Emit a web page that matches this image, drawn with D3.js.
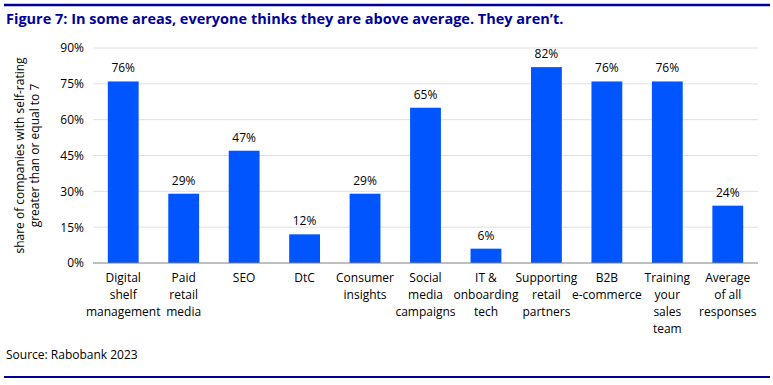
<!DOCTYPE html>
<html>
<head>
<meta charset="utf-8">
<script src="https://cdn.jsdelivr.net/npm/d3@7"></script>
<style>
  body { margin: 0; background: #fff; }
  svg text { font-family: "Open Sans", "Noto Sans", sans-serif; }
</style>
</head>
<body>
<svg id="chart" width="773" height="385"></svg>
<script>
let categories = [
  ['Digital', 'shelf', 'management'],
  ['Paid', 'retail', 'media'],
  ['SEO'],
  ['DtC'],
  ['Consumer', 'insights'],
  ['Social', 'media', 'campaigns'],
  ['IT &', 'onboarding', 'tech'],
  ['Supporting', 'retail', 'partners'],
  ['B2B', 'e-commerce'],
  ['Training', 'your', 'sales', 'team'],
  ['Average', 'of all', 'responses']
];
let values = [76, 29, 47, 12, 29, 65, 6, 82, 76, 76, 24];
let yTicks = [0, 15, 30, 45, 60, 75, 90];
let titleText = 'Figure 7: In some areas, everyone thinks they are above average. They aren\u2019t.';
let yLabel = ['share of companies with self-rating', 'greater than or equal to  7'];
let sourceText = 'Source: Rabobank 2023';

let navy = '#000099';
let barColor = '#0055ff';
let plotLeft = 93;
let plotRight = 758;
let plotTop = 48;
let plotBottom = 263;

const svg = d3.select('#chart');

svg.append('line')
  .attr('x1', 4).attr('x2', 770)
  .attr('y1', 5).attr('y2', 5)
  .attr('stroke', navy).attr('stroke-width', 2.5);
svg.append('line')
  .attr('x1', 4).attr('x2', 770)
  .attr('y1', 377).attr('y2', 377)
  .attr('stroke', navy).attr('stroke-width', 2);

svg.append('text')
  .attr('x', 6).attr('y', 24)
  .attr('fill', navy)
  .attr('font-size', 14.5)
  .attr('font-weight', 'bold')
  .text(titleText);

svg.append('text')
  .attr('x', 6).attr('y', 359)
  .attr('fill', '#000')
  .attr('font-size', 12)
  .text(sourceText);

let x = d3.scaleBand()
  .domain(d3.range(values.length))
  .range([plotLeft, plotRight])
  .paddingInner(0.49)
  .paddingOuter(0.245);

let y = d3.scaleLinear()
  .domain([0, 90])
  .range([plotBottom, plotTop]);

// grid
svg.append('g')
  .selectAll('line')
  .data(yTicks.filter(d => d > 0))
  .enter()
  .append('line')
  .attr('x1', plotLeft).attr('x2', plotRight)
  .attr('y1', d => y(d)).attr('y2', d => y(d))
  .attr('stroke', '#e0e0e0').attr('stroke-width', 1);

let yAxis = d3.axisLeft(y)
  .tickValues(yTicks)
  .tickSize(0)
  .tickPadding(8)
  .tickFormat(d => d + '%');

let yg = svg.append('g')
  .attr('transform', 'translate(' + (plotLeft - 1) + ',0)')
  .call(yAxis);
yg.select('.domain').remove();
yg.selectAll('text')
  .attr('font-size', 12)
  .attr('fill', '#000')
  .attr('font-family', '"Open Sans", "Noto Sans", sans-serif');

// bars
svg.append('g')
  .selectAll('rect')
  .data(values)
  .enter()
  .append('rect')
  .attr('x', (d, i) => x(i))
  .attr('y', d => y(d))
  .attr('width', x.bandwidth())
  .attr('height', d => plotBottom - y(d))
  .attr('fill', barColor);

svg.append('g')
  .selectAll('text')
  .data(values)
  .enter()
  .append('text')
  .attr('x', (d, i) => x(i) + x.bandwidth() / 2)
  .attr('y', d => y(d) - 9)
  .attr('text-anchor', 'middle')
  .attr('font-size', 12)
  .attr('fill', '#000')
  .text(d => d + '%');

// baseline
svg.append('line')
  .attr('x1', plotLeft).attr('x2', plotRight)
  .attr('y1', plotBottom).attr('y2', plotBottom)
  .attr('stroke', '#7f7f7f').attr('stroke-width', 1);

// category labels
let catG = svg.append('g')
  .selectAll('text')
  .data(categories)
  .enter()
  .append('text')
  .attr('x', (d, i) => x(i) + x.bandwidth() / 2)
  .attr('y', 282)
  .attr('text-anchor', 'middle')
  .attr('font-size', 12)
  .attr('fill', '#000');
catG.selectAll('tspan')
  .data(d => d)
  .enter()
  .append('tspan')
  .attr('x', function () { return d3.select(this.parentNode).attr('x'); })
  .attr('dy', (d, i) => i === 0 ? 0 : 17)
  .text(d => d);

// y label, one text per line so each is centred
svg.append('g')
  .selectAll('text')
  .data(yLabel)
  .enter()
  .append('text')
  .attr('transform', (d, i) => 'translate(' + (24 + i * 15) + ',' + ((plotTop + plotBottom) / 2) + ') rotate(-90)')
  .attr('text-anchor', 'middle')
  .attr('font-size', 12)
  .attr('fill', '#000')
  .text(d => d);
</script>
</body>
</html>
